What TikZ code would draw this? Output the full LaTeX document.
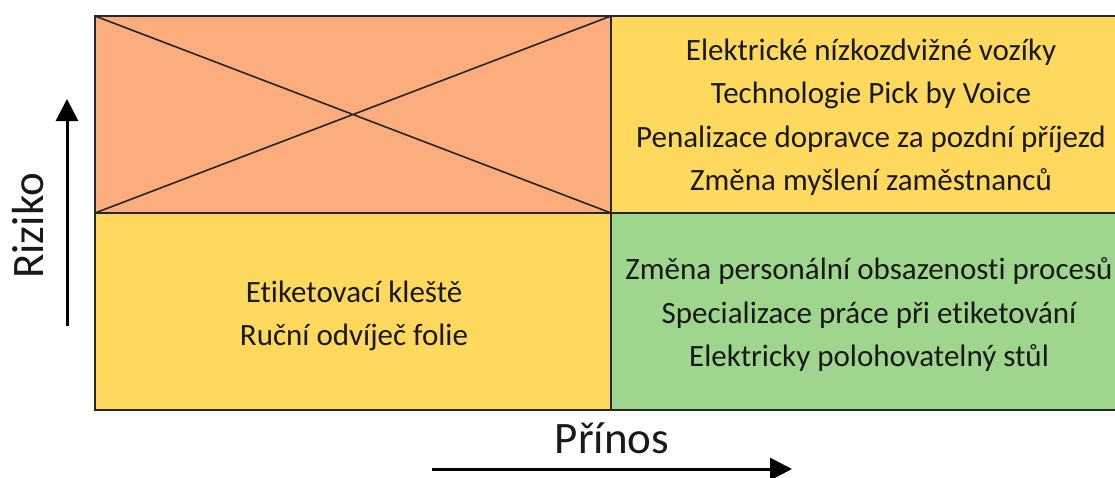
\documentclass[tikz,border=0pt]{standalone}
\usepackage{fontspec}
\setmainfont{Carlito}[Ligatures=NoCommon]
\usetikzlibrary{arrows.meta}
\definecolor{salmon}{HTML}{FBAD7E}
\definecolor{yel}{HTML}{FFD95E}
\definecolor{grn}{HTML}{9FD68E}
\tikzset{
  cell/.style={draw=black!85, line width=1.6pt},
  celltext/.style={align=center, font=\fontsize{31}{43.5}\selectfont, text=black!90},
  axis/.style={line width=3pt, -{Triangle[length=22pt,width=22pt]}},
  axlabel/.style={font=\fontsize{45}{50}\selectfont, text=black!90}
}
\begin{document}
\begin{tikzpicture}[x=1pt,y=-1pt]
\useasboundingbox (0,0) rectangle (1115,477);
\begin{scope}
\clip (0,0) rectangle (1115,477);
\coordinate (tl) at (95,16);
\coordinate (tm) at (611,16);
\coordinate (ml) at (95,213);
\coordinate (mm) at (611,213);
\coordinate (bl) at (95,410);
\coordinate (bm) at (611,410);
\fill[salmon] (95,16) rectangle (611,213);
\fill[yel] (611,16) rectangle (1135,213);
\fill[yel] (95,213) rectangle (611,410);
\fill[grn] (611,213) rectangle (1135,410);
\draw[cell] (tl) -- (mm) (tm) -- (ml);
\draw[cell] (95,16) rectangle (1135,410);
\draw[cell] (tm) -- (bm) (ml) -- (1135,213);
\end{scope}
\node[celltext] (tr) at (871,117) {Elektrické nízkozdvižné vozíky\\Technologie Pick by Voice\\Penalizace dopravce za pozdní příjezd\\Změna myšlení zaměstnanců};
\node[celltext] (blt) at (354,316) {Etiketovací kleště\\Ruční odvíječ folie};
\node[celltext] (brt) at (869,315) {Změna personální obsazenosti procesů\\Specializace práce při etiketování\\Elektricky polohovatelný stůl};
\coordinate (va) at (67,326);
\coordinate (vb) at (67,99);
\draw[axis] (va) -- (vb);
\coordinate (ha) at (432,469);
\coordinate (hb) at (792,469);
\draw[axis] (ha) -- (hb);
\node[axlabel, rotate=90] (rz) at (28,226) {Riziko};
\node[axlabel] (pr) at (612,438) {Přínos};
\end{tikzpicture}
\end{document}
